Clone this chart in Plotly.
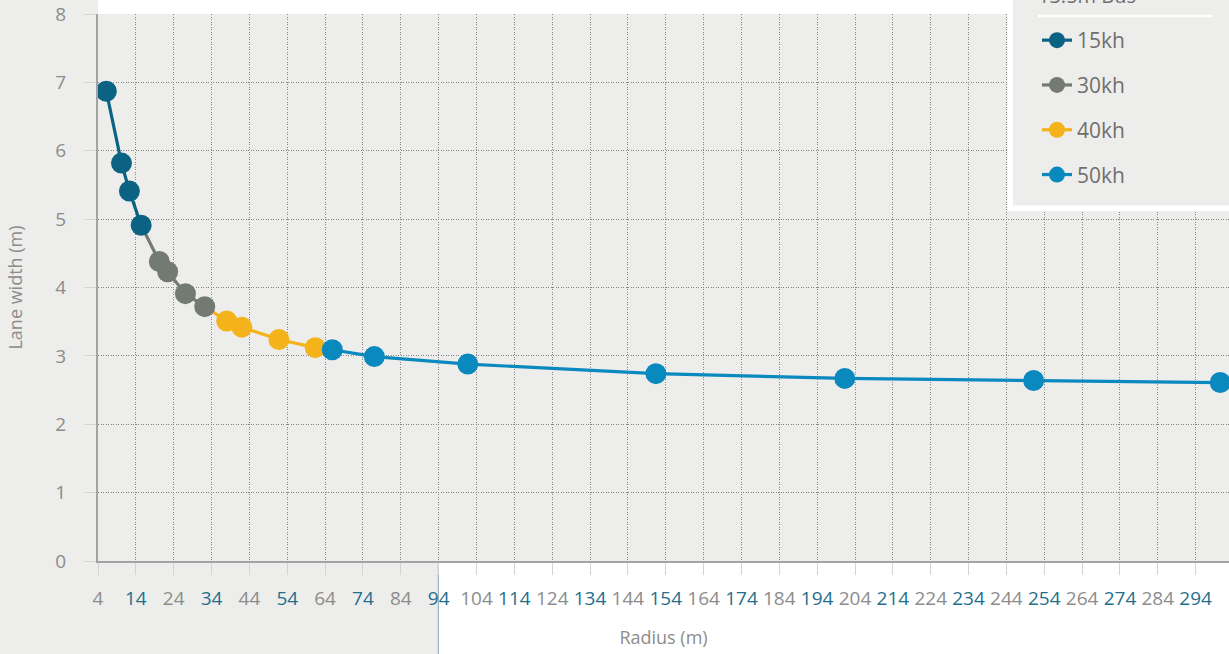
import plotly.graph_objects as go

# ---- data ----
series_names = ["15kh", "30kh", "40kh", "50kh"]
series_colors = ["#0b6282", "#737a71", "#f4b21b", "#0a89bf"]

x15 = [6.2, 10.2, 12.3, 15.4]
y15 = [6.87, 5.82, 5.41, 4.91]
x30 = [20.2, 22.4, 27.1, 32.2]
y30 = [4.38, 4.23, 3.91, 3.72]
x40 = [38.0, 42.0, 51.8, 61.4]
y40 = [3.51, 3.42, 3.24, 3.12]
x50 = [65.9, 77.0, 101.7, 151.4, 201.3, 251.2, 300.5]
y50 = [3.09, 2.99, 2.88, 2.74, 2.67, 2.64, 2.61]

x_tick_vals = list(range(4, 295, 10))
y_tick_vals = [0, 1, 2, 3, 4, 5, 6, 7, 8]

legend_title = "13.5m Bus"
x_title = "Radius (m)"
y_title = "Lane width (m)"

xs = [x15, x30, x40, x50]
ys = [y15, y30, y40, y50]

# ---- styling ----
BG = "#edeeeb"
TICK_GRAY = "#8c8c8c"
TICK_TEAL = "#1f6f8d"
TEXT_GRAY = "#6f6f6f"
FONT = "Open Sans"

W, H = 1229, 654
ML, MR, MT, MB = 98, 0, 14, 93
PW, PH = W - ML - MR, H - MT - MB


def px_x(p):
    return (p - ML) / PW


def px_y(p):
    return (H - MB - p) / PH


fig = go.Figure()

# connectors between consecutive series (coloured like the later series)
for i in range(1, len(xs)):
    fig.add_trace(go.Scatter(
        x=[xs[i - 1][-1], xs[i][0]], y=[ys[i - 1][-1], ys[i][0]],
        mode="lines", line=dict(color=series_colors[i], width=3.2),
        showlegend=False, hoverinfo="skip"))

for name, color, x, y in zip(series_names, series_colors, xs, ys):
    fig.add_trace(go.Scatter(
        x=x, y=y, name=name, legendgroup=name,
        mode="lines+markers",
        line=dict(color=color, width=3.2),
        marker=dict(color=color, size=21),
    ))

ticktext = []
for i, v in enumerate(x_tick_vals):
    c = TICK_TEAL if i % 2 == 1 else TICK_GRAY
    ticktext.append(f'<span style="color:{c}">{v}</span>')

x_max = 4 + (W - ML) / 3.785

GRID_DASH = "1px,1.5px"

fig.update_xaxes(
    range=[4, x_max], tickmode="array", tickvals=x_tick_vals, ticktext=ticktext,
    showgrid=True, gridcolor="#858585", griddash=GRID_DASH, gridwidth=1,
    showline=True, linecolor="#a3a3a3", linewidth=2,
    ticks="outside", ticklen=12, tickcolor="#d4d4d4", tickwidth=1,
    zeroline=False, automargin=False, ticklabelstandoff=7,
    tickfont=dict(family=FONT, size=19, color=TICK_GRAY),
    title=dict(text=x_title, font=dict(family=FONT, size=18, color=TICK_GRAY), standoff=22),
)
fig.update_yaxes(
    range=[0, 8], tickmode="array", tickvals=y_tick_vals,
    showgrid=True, gridcolor="#858585", griddash=GRID_DASH, gridwidth=1,
    showline=True, linecolor="#a3a3a3", linewidth=2,
    ticks="outside", ticklen=12, tickcolor="#d4d4d4", tickwidth=1,
    zeroline=False, automargin=False, ticklabelstandoff=14,
    tickfont=dict(family=FONT, size=19, color=TICK_GRAY),
    title=dict(text=y_title, font=dict(family=FONT, size=18, color=TICK_GRAY), standoff=28),
)

shapes = [
    # grey left margin
    dict(type="rect", xref="paper", yref="paper", layer="below",
         x0=px_x(-5), x1=0, y0=px_y(H + 5), y1=px_y(-5),
         fillcolor=BG, line=dict(width=0)),
    # grey bottom-left block
    dict(type="rect", xref="paper", yref="paper", layer="below",
         x0=px_x(-5), x1=px_x(438), y0=px_y(H + 5), y1=0,
         fillcolor=BG, line=dict(width=0)),
    dict(type="line", xref="paper", yref="paper", layer="below",
         x0=px_x(438.3), x1=px_x(438.3), y0=px_y(H + 5), y1=0,
         line=dict(color="#8aa0b2", width=1)),
    # legend panel
    dict(type="rect", xref="paper", yref="paper", layer="above",
         x0=px_x(1010.2), x1=px_x(W + 20), y0=px_y(208.3), y1=px_y(-20),
         fillcolor=BG, line=dict(color="white", width=5.5)),
    # white rule under legend title
    dict(type="line", xref="paper", yref="paper", layer="above",
         x0=px_x(1038), x1=px_x(1212), y0=px_y(16), y1=px_y(16),
         line=dict(color="white", width=2.5)),
]

annotations = [
    dict(text=legend_title, xref="paper", yref="paper",
         x=px_x(1036), y=px_y(11), xanchor="left", yanchor="bottom",
         showarrow=False, font=dict(family=FONT, size=20, color=TEXT_GRAY)),
]

fig.update_layout(
    width=W, height=H,
    margin=dict(l=ML, r=MR, t=MT, b=MB, autoexpand=False),
    paper_bgcolor="white", plot_bgcolor=BG,
    shapes=shapes, annotations=annotations,
    showlegend=True,
    legend=dict(
        x=px_x(1037), y=px_y(20), xanchor="left", yanchor="top",
        bgcolor="rgba(0,0,0,0)", borderwidth=0,
        tracegroupgap=14.5,
        font=dict(family=FONT, size=21, color=TEXT_GRAY),
    ),
    font=dict(family=FONT),
)

fig.write_html("out.html", config={"displayModeBar": False},
               post_script="document.body.style.margin='0px';")
